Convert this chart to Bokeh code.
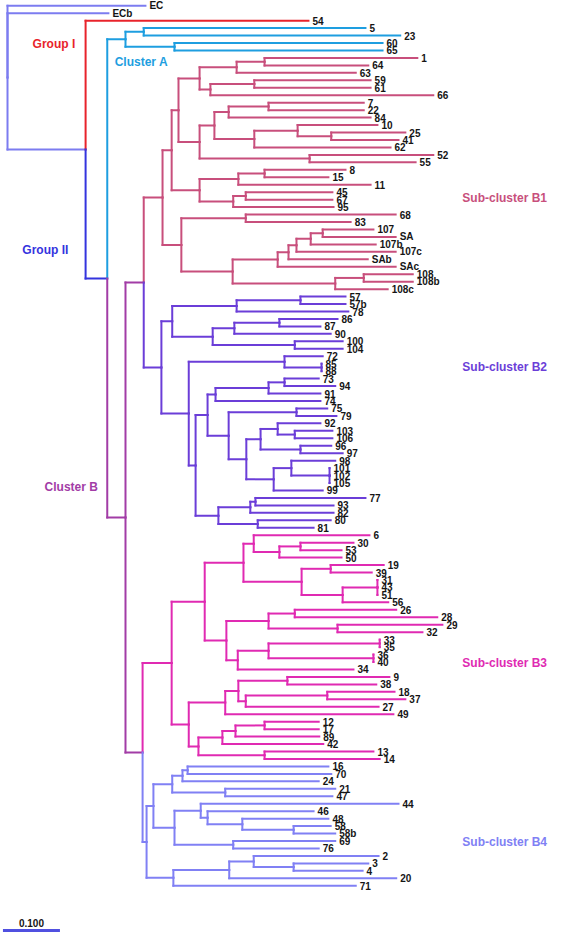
import re
from bokeh.plotting import figure
from bokeh.models import Range1d, ColumnDataSource
from bokeh.embed import file_html
from bokeh.resources import INLINE
from bokeh.core.properties import value

# ---------------- DATA ----------------
# Newick-like strings; the number after ':' is the node's depth (genetic distance from the root)
CLUSTER_A = "((5:0.628,23:0.689):0.239,(60:0.658,65:0.658):0.293)ClusterA:0.207"

SUB_B1 = ("((("
          "(((1:0.719,64:0.633):0.451,63:0.611):0.402,((59:0.637,61:0.637):0.433,66:0.747):0.356):0.337,"
          "((((7:0.625,22:0.625):0.458,84:0.637):0.388,((10:0.649,(25:0.698,41:0.686):0.568):0.509,62:0.672):0.433):0.363,"
          "(52:0.747,55:0.716):0.530):0.337"
          "):0.300,"
          "(((8:0.593,15:0.563):0.451,11:0.637):0.405,((45:0.570,67:0.570):0.418,95:0.572):0.396):0.337"
          "):0.288,"
          "((68:0.681,83:0.602):0.418,"
          "((((((107:0.642,SA:0.681):0.553,107b:0.646):0.532,107c:0.681):0.507,SAb:0.632):0.493,SAc:0.681):0.474,"
          "((108:0.711,108b:0.711):0.625,108c:0.667):0.575):0.395):0.305"
          ")B1:0.272")

SUB_B2 = ("((((57:0.593,57b:0.593):0.514,78:0.598):0.402,"
          "(((86:0.579,87:0.549):0.477,90:0.567):0.398,(100:0.588,104:0.588):0.504):0.360):0.289,"
          "((72:0.553,(85:0.551,88:0.551):0.551):0.486,"
          "(("
          "(((73:0.546,94:0.575):0.486,91:0.549):0.458,74:0.549):0.365,"
          "((75:0.561,79:0.577):0.507,"
          "(((92:0.549,(103:0.570,106:0.570):0.504):0.474,(96:0.568,97:0.588):0.514):0.444,"
          "((98:0.575,(101:0.565,102:0.565,105:0.565):0.565):0.498,99:0.553):0.467"
          "):0.419"
          "):0.388"
          "):0.351,"
          "(((77:0.628,93:0.572):0.435,82:0.572):0.426,(80:0.567,81:0.537):0.439):0.370"
          "):0.330"
          "):0.318"
          ")B2:0.270")

SUB_B3 = ("(("
          "((6:0.635,((30:0.607,53:0.586):0.514,50:0.586):0.477):0.432,"
          "((19:0.660,39:0.639):0.567,((31:0.649,43:0.649,51:0.649):0.649,56:0.668):0.588):0.516):0.414,"
          "(((26:0.682,28:0.754):0.504,(29:0.763,32:0.728):0.579):0.458,"
          "(((33:0.653,35:0.653):0.653,(36:0.642,40:0.642):0.642):0.458,34:0.607):0.404):0.384"
          "):0.346,"
          "((((9:0.670,38:0.647):0.491,((18:0.679,37:0.698):0.561,27:0.651):0.418):0.405,49:0.677):0.382,"
          "((((12:0.546,17:0.546):0.451,89:0.547):0.400,42:0.554):0.377,(13:0.642,14:0.653):0.451):0.335"
          "):0.318"
          ")B3:0.288")

SUB_B4 = ("(("
          "(((16:0.563,70:0.568):0.316,24:0.546):0.307,(21:0.575,47:0.570):0.382):0.289,"
          "((44:0.686,(46:0.537,(48:0.563,(58:0.567,58b:0.575):0.502):0.412):0.351):0.339,(69:0.575,76:0.546):0.396):0.293"
          "):0.256,"
          "(((2:0.651,(3:0.633,4:0.623):0.502):0.432,20:0.682):0.389,71:0.611):0.291"
          ")B4:0.244")

BACKBONE = ("(EC:0.242,ECb:0.177,(54:0.528,({A},(({B1},{B2})B12:0.239,({B3},{B4})B34:0.237)"
            "ClusterB:0.207)GroupII:0.175)Group:0.137)root:0")

CLADE_COLORS = {
    "root": "#7c7cf0",
    "54": "#e8232b",
    "GroupII": "#3434de",
    "ClusterA": "#1e9ee0",
    "ClusterB": "#a23ca6",
    "B1": "#c84f7c",
    "B2": "#6b3ed8",
    "B3": "#e02ab2",
    "B4": "#8080f4",
}

SUBCLUSTER_LABELS = {"B1": "Sub-cluster B1", "B2": "Sub-cluster B2",
                     "B3": "Sub-cluster B3", "B4": "Sub-cluster B4"}

GROUP_LABELS = ["Group I", "Cluster A", "Group II", "Cluster B"]
GROUP_LABEL_COLORS = ["#e8232b", "#1e9ee0", "#3434de", "#a23ca6"]

SCALE_LENGTH = 0.100
SCALE_TEXT = "0.100"

# ---------------- layout / style ----------------
GROUP_LABEL_X = [0.044, 0.188, 0.026, 0.065]
GROUP_LABEL_Y = [5.1, 7.6, 32.7, 64.5]
SUBCLUSTER_X = 0.798


def parse(s):
    s = re.sub(r"\s+", "", s)
    pos = 0

    def node():
        nonlocal pos
        children = []
        if s[pos] == "(":
            pos += 1
            children.append(node())
            while s[pos] == ",":
                pos += 1
                children.append(node())
            pos += 1  # ')'
        start = pos
        while pos < len(s) and s[pos] not in ":,()":
            pos += 1
        name = s[start:pos]
        depth = 0.0
        if pos < len(s) and s[pos] == ":":
            pos += 1
            start = pos
            while pos < len(s) and s[pos] not in ",()":
                pos += 1
            depth = float(s[start:pos])
        return {"name": name, "depth": depth, "children": children}

    return node()


tree = parse(BACKBONE.format(A=CLUSTER_A, B1=SUB_B1, B2=SUB_B2, B3=SUB_B3, B4=SUB_B4))

leaves = []
clades = {}


def layout(n, color):
    n["color"] = CLADE_COLORS.get(n["name"], color)
    clades[n["name"]] = n
    if not n["children"]:
        n["y"] = float(len(leaves))
        leaves.append(n)
    else:
        for c in n["children"]:
            layout(c, n["color"])
        n["y"] = (n["children"][0]["y"] + n["children"][-1]["y"]) / 2.0


layout(tree, CLADE_COLORS["root"])

x0, y0, x1, y1, cols = [], [], [], [], []


def segs(n):
    for c in n["children"]:
        # vertical part at parent depth
        x0.append(n["depth"]); y0.append(n["y"]); x1.append(n["depth"]); y1.append(c["y"]); cols.append(c["color"])
        # horizontal branch to child
        x0.append(n["depth"]); y0.append(c["y"]); x1.append(c["depth"]); y1.append(c["y"]); cols.append(c["color"])
        segs(c)


segs(tree)

n_leaves = len(leaves)
p = figure(width=567, height=933,
           x_range=Range1d(-0.0123, 0.9825),
           y_range=Range1d(n_leaves + 5.4, -0.7),
           output_backend="svg", toolbar_location=None, min_border=0)
p.axis.visible = False
p.grid.visible = False
p.outline_line_color = None
p.background_fill_color = "white"
p.border_fill_color = "white"

p.segment(x0=x0, y0=y0, x1=x1, y1=y1, line_color=cols, line_width=2, line_cap="square")

font = value("Liberation Sans")
leaf_src = ColumnDataSource(dict(x=[l["depth"] for l in leaves], y=[l["y"] for l in leaves],
                                 t=[l["name"] for l in leaves]))
p.text(x="x", y="y", text="t", source=leaf_src, x_offset=4, text_baseline="middle",
       text_font=font, text_font_style="bold", text_font_size="10px", text_color="#151515")

# sub-cluster labels at the clade's node height
for key, lab in SUBCLUSTER_LABELS.items():
    p.text(x=[SUBCLUSTER_X], y=[clades[key]["y"]], text=[lab], text_baseline="middle",
           text_font=font, text_font_style="bold", text_font_size="12px",
           text_color=CLADE_COLORS[key])

for lab, col, gx, gy in zip(GROUP_LABELS, GROUP_LABEL_COLORS, GROUP_LABEL_X, GROUP_LABEL_Y):
    p.text(x=[gx], y=[gy], text=[lab], text_baseline="middle", text_font=font,
           text_font_style="bold", text_font_size="12px", text_color=col)

# scale bar
p.segment(x0=[-0.008], y0=[n_leaves + 5], x1=[-0.008 + SCALE_LENGTH], y1=[n_leaves + 5],
          line_color="#5050e0", line_width=3)
p.text(x=[-0.008 + SCALE_LENGTH / 2], y=[n_leaves + 4], text=[SCALE_TEXT], text_align="center",
       text_baseline="middle", text_font=font, text_font_style="bold", text_font_size="10px",
       text_color="#151515")

open("out.html", "w").write(file_html(p, INLINE))
